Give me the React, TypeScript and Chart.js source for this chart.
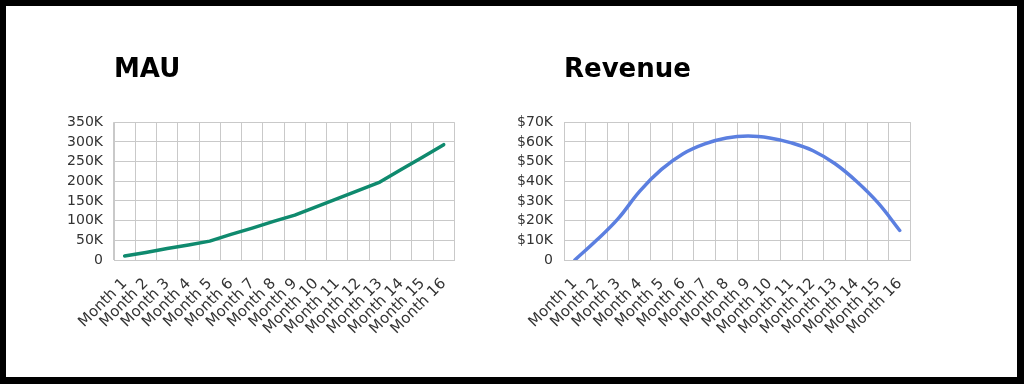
import React, { useEffect, useRef } from "react";
import { Chart, registerables } from "chart.js";

Chart.register(...registerables);

const months = [
  "Month 1", "Month 2", "Month 3", "Month 4", "Month 5", "Month 6", "Month 7", "Month 8",
  "Month 9", "Month 10", "Month 11", "Month 12", "Month 13", "Month 14", "Month 15", "Month 16",
];
const mauValues = [10000, 19000, 29000, 38000, 48000, 65000, 81000, 98000, 114000, 135000, 156000, 177000, 198000, 230000, 261000, 293000];
const revenueValues = [0, 10000, 21000, 35000, 46000, 54000, 59000, 62000, 63000, 62000, 59500, 55500, 49000, 40000, 29000, 15000];
const mauTicks = { max: 350000, step: 50000 };
const revenueTicks = { max: 70000, step: 10000 };

const FONT = "'DejaVu Sans', sans-serif";
const GRID = "#c9c9c9";
const TEXT = "#333333";

type Cfg = {
  title: string;
  values: number[];
  color: string;
  tension: number;
  max: number;
  step: number;
  fmt: (v: number) => string;
  pad: { left: number; right: number; top: number; bottom: number };
};

function LineChart({ cfg, width, height }: { cfg: Cfg; width: number; height: number }) {
  const ref = useRef<HTMLCanvasElement | null>(null);
  useEffect(() => {
    if (!ref.current) return;
    const chart = new Chart(ref.current, {
      type: "line",
      data: {
        labels: months,
        datasets: [
          {
            data: cfg.values,
            borderColor: cfg.color,
            backgroundColor: cfg.color,
            borderWidth: 3.5,
            pointRadius: 0,
            tension: cfg.tension,
            borderCapStyle: "round",
            borderJoinStyle: "round",
            fill: false,
          },
        ],
      },
      options: {
        animation: false,
        responsive: false,
        maintainAspectRatio: false,
        layout: { padding: cfg.pad },
        plugins: {
          legend: { display: false },
          tooltip: { enabled: false },
          title: {
            display: true,
            text: cfg.title,
            align: "start",
            fullSize: false,
            color: "#000000",
            font: { family: FONT, size: 26, weight: "bold", lineHeight: 1.2 },
            padding: { top: 15, bottom: 36 },
          },
        },
        scales: {
          x: {
            type: "category",
            offset: true,
            grid: { offset: true, color: GRID, drawTicks: false, lineWidth: 1 },
            border: { color: GRID, width: 1 },
            ticks: {
              color: TEXT,
              font: { family: FONT, size: 15 },
              maxRotation: 45,
              minRotation: 45,
              autoSkip: false,
              padding: 15,
            },
            afterFit: (s: any) => {
              s.height = 80;
            },
          },
          y: {
            min: 0,
            max: cfg.max,
            grid: { color: GRID, drawTicks: false, lineWidth: 1 },
            border: { color: GRID, width: 1 },
            ticks: {
              stepSize: cfg.step,
              autoSkip: false,
              color: TEXT,
              font: { family: FONT, size: 14 },
              padding: 11,
              callback: (v: any) => cfg.fmt(Number(v)),
            },
            afterFit: (s: any) => {
              s.width = 47;
            },
          },
        },
      },
    });
    return () => chart.destroy();
  }, [cfg, width, height]);
  return <canvas ref={ref} width={width} height={height} style={{ width, height, display: "block" }} />;
}

const mauCfg: Cfg = {
  title: "MAU",
  values: mauValues,
  color: "#0f8a6e",
  tension: 0,
  max: mauTicks.max,
  step: mauTicks.step,
  fmt: (v) => (v === 0 ? "0" : `${v / 1000}K`),
  pad: { left: 7, right: 0, top: 0, bottom: 20 },
};

const revCfg: Cfg = {
  title: "Revenue",
  values: revenueValues,
  color: "#5b7fe0",
  tension: 0.4,
  max: revenueTicks.max,
  step: revenueTicks.step,
  fmt: (v) => (v === 0 ? "0" : `$${v / 1000}K`),
  pad: { left: 12, right: 0, top: 0, bottom: 20 },
};

export default function App() {
  return (
    <div
      style={{
        position: "fixed",
        left: 0,
        top: 0,
        width: 1024,
        height: 384,
        background: "#000",
        overflow: "hidden",
      }}
    >
      <div
        style={{
          position: "absolute",
          left: 6,
          top: 6,
          width: 1011,
          height: 371,
          background: "#fff",
        }}
      />
      <div style={{ position: "absolute", left: 60, top: 40 }}>
        <LineChart cfg={mauCfg} width={412} height={320} />
      </div>
      <div style={{ position: "absolute", left: 505, top: 40 }}>
        <LineChart cfg={revCfg} width={423} height={320} />
      </div>
    </div>
  );
}
